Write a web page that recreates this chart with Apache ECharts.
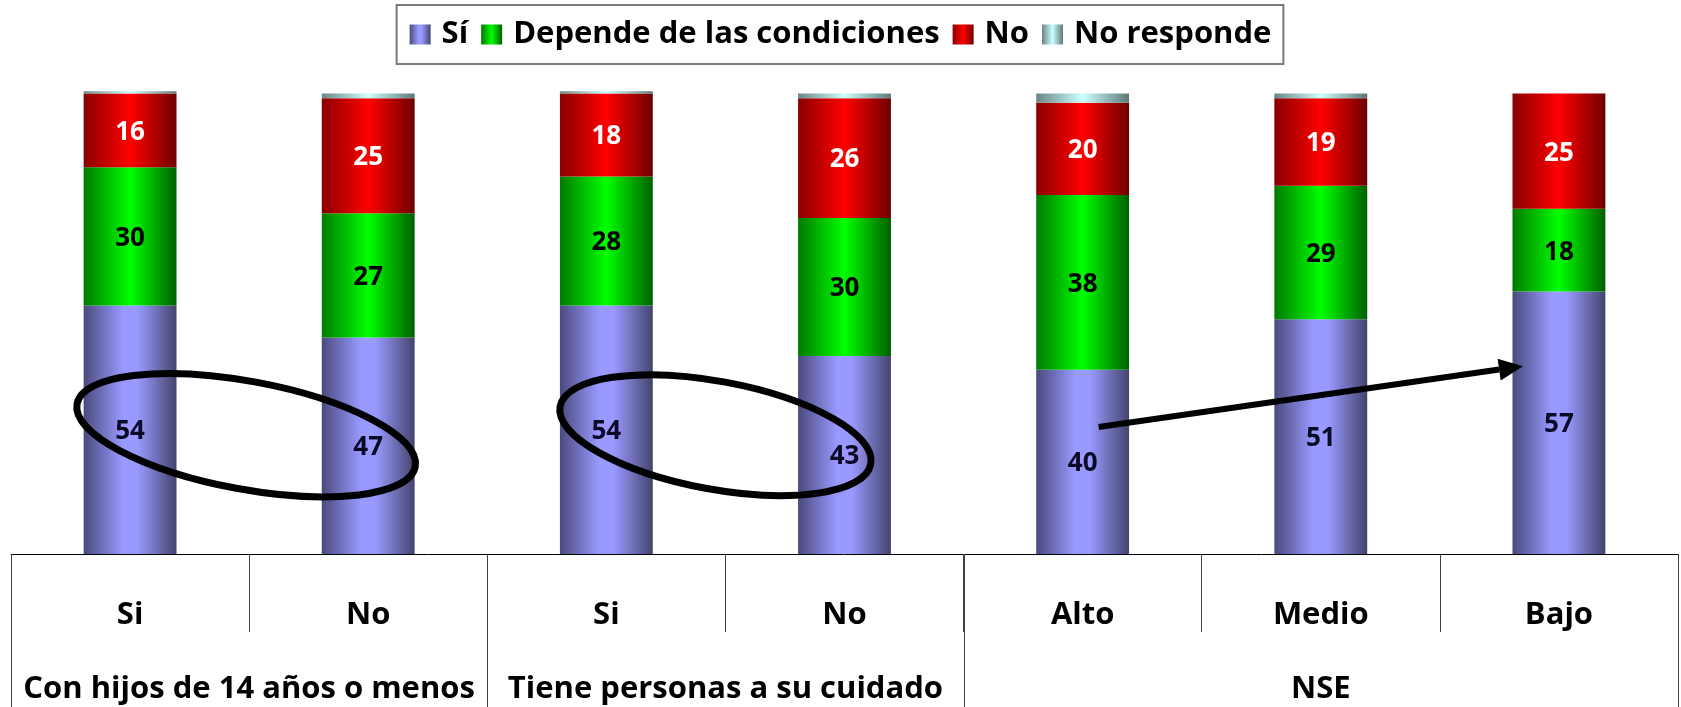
<!DOCTYPE html>
<html>
<head>
<meta charset="utf-8">
<script src="https://cdn.jsdelivr.net/npm/echarts@6/dist/echarts.min.js"></script>
<style>
html,body{margin:0;padding:0;background:#fff;}
#chart{width:1681px;height:707px;}
</style>
</head>
<body>
<div id="chart"></div>
<script>
// ---- data ----
const categories = ['Si', 'No', 'Si', 'No', 'Alto', 'Medio', 'Bajo'];
const groupLabels = ['Con hijos de 14 años o menos', 'Tiene personas a su cuidado', 'NSE'];
const groupSpans = [2, 2, 3];
const seriesNames = ['Sí', 'Depende de las condiciones', 'No', 'No responde'];
const siValues = [54, 47, 54, 43, 40, 51, 57];
const dependeValues = [30, 27, 28, 30, 38, 29, 18];
const noValues = [16, 25, 18, 26, 20, 19, 25];
const noRespondeValues = [0.5, 1, 0.5, 1, 2, 1, 0];

const FONT = 'Open Sans';
function grad(stops) {
  return new echarts.graphic.LinearGradient(0, 0, 1, 0,
    stops.map((c, i) => ({offset: c[0], color: c[1]})));
}
const blue = grad([[0, '#4a4a7e'], [0.42, '#9999ff'], [0.58, '#9999ff'], [1, '#44446e']]);
const green = grad([[0, '#007a00'], [0.5, '#00ff00'], [1, '#006000']]);
const red = grad([[0, '#8a0000'], [0.5, '#ff0000'], [1, '#6e0000']]);
const cyan = grad([[0, '#6b8585'], [0.5, '#ccffff'], [1, '#5e7878']]);

function mkSeries(name, data, color, labelColor, showLabel) {
  return {
    name: name, type: 'bar', stack: 'total', data: data,
    barWidth: '39%',
    itemStyle: {color: color},
    label: {
      show: showLabel, position: 'inside', offset: [0, 2],
      color: labelColor, fontFamily: FONT, fontWeight: 'bold', fontSize: 26,
      formatter: p => Math.round(p.value)
    },
    emphasis: {disabled: true}
  };
}

const chart = echarts.init(document.getElementById('chart'), null, {renderer: 'canvas'});
chart.setOption({
  animation: false,
  legend: {
    data: seriesNames,
    left: 'center', top: 5,
    orient: 'horizontal',
    icon: 'rect',
    backgroundColor: '#fff',
    borderColor: '#7a7a7a', borderWidth: 2,
    padding: [14, 12, 14, 13],
    itemWidth: 21, itemHeight: 20, itemGap: 13,
    textStyle: {fontFamily: FONT, fontWeight: 'bold', fontSize: 31, color: '#000', padding: [0, 0, 0, 6]}
  },
  grid: {left: 11, right: 3, top: 89, bottom: 153, containLabel: false},
  xAxis: {
    type: 'category', data: categories, boundaryGap: true,
    axisLine: {show: true, lineStyle: {color: '#000', width: 1}},
    axisTick: {show: true, interval: 0, length: 78, lineStyle: {color: '#404040', width: 1}},
    axisLabel: {interval: 0, margin: 45, lineHeight: 32, fontFamily: FONT, fontWeight: 'bold', fontSize: 31, color: '#000'}
  },
  yAxis: {type: 'value', min: 0, max: 101, show: false, splitLine: {show: false}},
  series: [
    mkSeries(seriesNames[0], siValues, blue, '#0a0a26', true),
    mkSeries(seriesNames[1], dependeValues, green, '#000', true),
    mkSeries(seriesNames[2], noValues, red, '#fff', true),
    mkSeries(seriesNames[3], noRespondeValues, cyan, '#000', false)
  ]
});

// ---- annotations & table lines, placed via the chart's own scales ----
function px(cat, val) { return chart.convertToPixel({xAxisIndex: 0, yAxisIndex: 0}, [cat, val]); }
const p0 = px(0, 0), p1 = px(1, 0);
const catW = p1[0] - p0[0];
const axisY = p0[1];
const leftEdge = p0[0] - catW / 2;
const H = 707;
const graphics = [];
let acc = 0;
const bounds = [0];
groupSpans.forEach(s => { acc += s; bounds.push(acc); });
bounds.forEach(b => {
  const x = Math.round(leftEdge + b * catW) + 0.5;
  graphics.push({type: 'line', shape: {x1: x, y1: axisY, x2: x, y2: H}, style: {stroke: '#404040', lineWidth: 1}, z: 10});
});
for (let g = 0; g < groupSpans.length; g++) {
  const cx = leftEdge + (bounds[g] + bounds[g + 1]) / 2 * catW;
  graphics.push({type: 'text', x: cx, y: 689, style: {text: groupLabels[g], fontFamily: FONT, fontWeight: 'bold', fontSize: 31, fill: '#000', align: 'center', verticalAlign: 'middle'}, z: 10});
}
function ellipseAt(catMid, val, rx, ry, dx) {
  const a = px(Math.floor(catMid), val), b = px(Math.ceil(catMid), val);
  const cx = (a[0] + b[0]) / 2 + dx;
  return {type: 'ellipse', x: cx, y: a[1], rotation: -10.5 * Math.PI / 180,
    shape: {cx: 0, cy: 0, rx: rx, ry: ry},
    style: {fill: null, stroke: '#000', lineWidth: 7}, z: 20};
}
graphics.push(ellipseAt(0.5, 25.8, 172, 54, -3));
graphics.push(ellipseAt(2.5, 25.8, 158, 54, -10));
const s = px(4, 27.6), t = px(6, 40.8);
const x1 = s[0] + 16, y1 = s[1], x2 = t[0] - 36, y2 = t[1];
const ang = Math.atan2(y2 - y1, x2 - x1);
const headL = 24, headW = 11;
const bx = x2 - headL * Math.cos(ang), by = y2 - headL * Math.sin(ang);
graphics.push({type: 'line', shape: {x1: x1, y1: y1, x2: bx, y2: by}, style: {stroke: '#000', lineWidth: 6}, z: 20});
graphics.push({type: 'polygon', shape: {points: [
  [x2, y2],
  [bx + headW * Math.sin(ang), by - headW * Math.cos(ang)],
  [bx - headW * Math.sin(ang), by + headW * Math.cos(ang)]
]}, style: {fill: '#000'}, z: 20});
chart.setOption({graphic: graphics});
</script>
</body>
</html>
